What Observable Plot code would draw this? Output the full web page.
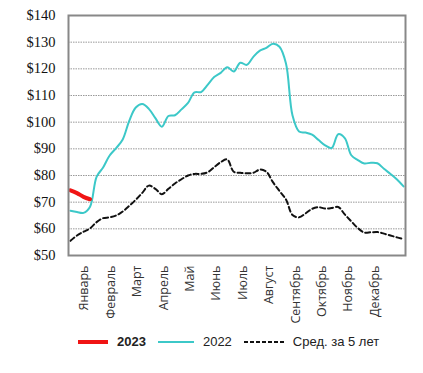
<!DOCTYPE html>
<html><head><meta charset="utf-8">
<script src="https://cdn.jsdelivr.net/npm/d3@7"></script>
<script src="https://cdn.jsdelivr.net/npm/@observablehq/plot@0.6"></script>
<style>
body{margin:0;background:#fff;}
#legend{display:flex;align-items:center;font-family:"Liberation Sans",Arial,sans-serif;font-size:13px;color:#222;margin-top:9px;margin-left:78px;}
.item{display:flex;align-items:center;margin-right:12px;}
.sw{display:inline-block;margin-right:9px;}
</style></head>
<body><div id="chart"></div><div id="legend"></div>
<script>
const months = ["Январь","Февраль","Март","Апрель","Май","Июнь","Июль","Август","Сентябрь","Октябрь","Ноябрь","Декабрь"];
const monthTickWeeks = [2.76,6.8,10.84,14.88,18.92,22.96,27.0,31.04,35.08,39.12,43.16,47.2];
const yTicks = [50,60,70,80,90,100,110,120,130,140];
const gridValues = [60,70,80,90,100,110,120,130];
const values2022 = [66.8,66.3,66.0,68.3,79.5,83.0,87.5,90.3,93.5,100.5,105.5,106.8,105.0,101.5,98.3,102.3,102.6,104.8,107.2,111.2,111.3,114.0,116.9,118.5,120.6,119.0,122.3,121.5,124.5,126.8,127.9,129.4,128.3,122.0,102.5,96.5,96.1,95.3,93.3,91.3,90.3,95.5,94.0,87.6,85.8,84.5,84.8,84.6,82.5,80.6,78.5,75.9];
const valuesAvg = [55.5,57.5,58.9,60.2,62.5,64.0,64.3,65.0,66.5,68.6,70.9,73.5,76.2,75.0,73.0,75.0,77.0,78.6,80.0,80.6,80.6,81.2,83.1,85.0,86.0,81.4,81.0,80.8,81.0,82.2,81.4,77.5,74.2,71.0,65.2,64.3,65.8,67.5,68.1,67.6,67.8,68.2,65.4,62.8,60.3,58.6,58.7,58.8,58.2,57.5,56.8,56.2];
const values2023 = [74.4,73.4,72.0,71.1];
const seriesNames = ["2023","2022","Сред. за 5 лет"];
const colors = {"2023":"#f01414","2022":"#3cc8c8","Сред. за 5 лет":"#111"};

const d2022 = values2022.map((v,i)=>({w:i,v}));
const dAvg = valuesAvg.map((v,i)=>({w:i,v}));
const d2023 = values2023.map((v,i)=>({w:i,v}));

const chart = Plot.plot({
  width:423, height:325,
  marginLeft:68, marginRight:18, marginTop:15, marginBottom:70,
  x:{domain:[-0.3,51.3], axis:null},
  y:{domain:[50,140], axis:null},
  marks:[
    Plot.ruleY(gridValues,{stroke:"#999",strokeDasharray:"1.5,1",strokeWidth:1}),
    Plot.text(yTicks,{y:d=>d,frameAnchor:"left",dx:-13,textAnchor:"end",text:d=>"$"+d,fontSize:14.5,fontFamily:"Liberation Serif, DejaVu Serif, serif",fill:"#111"}),
    Plot.text(monthTickWeeks,{x:d=>d,frameAnchor:"bottom",dy:10,rotate:-90,textAnchor:"end",text:(d,i)=>months[i],fontSize:12.5,fontFamily:"Open Sans, Liberation Sans, sans-serif",fill:"#333"}),
    Plot.line(dAvg,{x:"w",y:"v",stroke:colors["Сред. за 5 лет"],strokeWidth:2,strokeDasharray:"5,3",curve:"catmull-rom"}),
    Plot.line(d2022,{x:"w",y:"v",stroke:colors["2022"],strokeWidth:2,curve:"catmull-rom"}),
    Plot.line(d2023,{x:"w",y:"v",stroke:colors["2023"],strokeWidth:4,curve:"catmull-rom"}),
    Plot.frame({stroke:"#888",strokeWidth:2})
  ]
});
document.getElementById("chart").appendChild(chart);

const lg = document.getElementById("legend");
seriesNames.forEach((name,i)=>{
  const it = document.createElement("div"); it.className="item";
  const w = i===2?40:(i===1?36:30);
  const sw = document.createElementNS("http://www.w3.org/2000/svg","svg");
  sw.setAttribute("width",w); sw.setAttribute("height",8); sw.setAttribute("class","sw");
  const ln = document.createElementNS("http://www.w3.org/2000/svg","line");
  ln.setAttribute("x1",0); ln.setAttribute("x2",w); ln.setAttribute("y1",4); ln.setAttribute("y2",4);
  ln.setAttribute("stroke",colors[name]); ln.setAttribute("stroke-width", i===0?4:2);
  if(i===2) ln.setAttribute("stroke-dasharray","4,2");
  sw.appendChild(ln); it.appendChild(sw);
  const t = document.createElement("span"); t.textContent=name;
  if(i===0) t.style.fontWeight="bold";
  it.appendChild(t); lg.appendChild(it);
});
</script></body></html>
